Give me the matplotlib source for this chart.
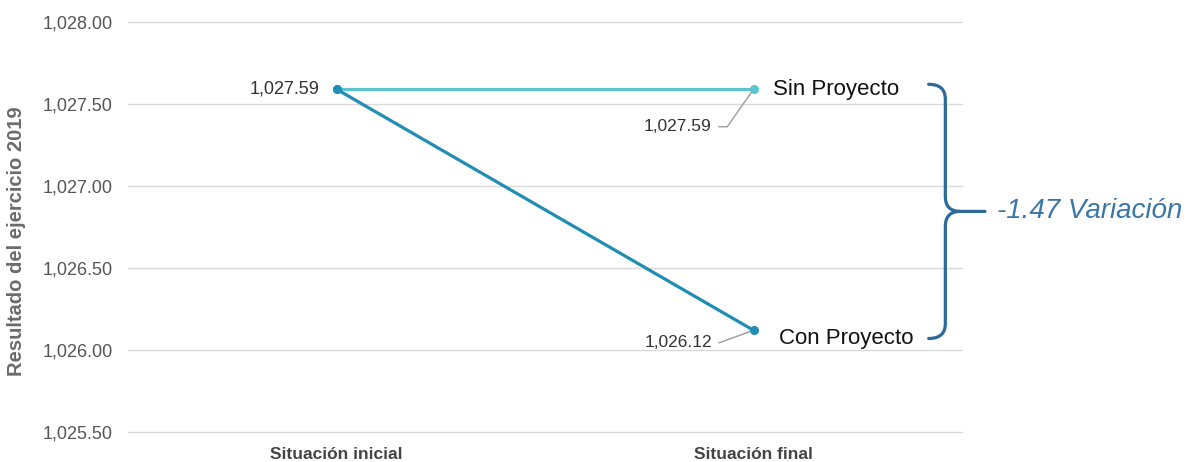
import matplotlib
matplotlib.use("Agg")
import matplotlib.pyplot as plt
from matplotlib.path import Path
from matplotlib.patches import PathPatch
from matplotlib.ticker import FuncFormatter, MultipleLocator

plt.rcParams["font.family"] = ["Liberation Sans", "DejaVu Sans"]

# ── Data ──────────────────────────────────────────────────────────────
categories = ["Situación inicial", "Situación final"]
sin_proyecto = [1027.59, 1027.59]
con_proyecto = [1027.59, 1026.12]
series_names = ["Sin Proyecto", "Con Proyecto"]
y_label = "Resultado del ejercicio 2019"

SIN_COLOR = "#5cc3d0"
CON_COLOR = "#1f8db4"
BRACE_COLOR = "#2a6b9c"

fig = plt.figure(figsize=(11.89, 4.62), dpi=100)
ax = fig.add_axes([0.1077, 0.065, 0.7014, 0.8874])

x = list(range(len(categories)))
ax.plot(x, sin_proyecto, color=SIN_COLOR, linewidth=2.3, marker="o",
        markersize=5.5, zorder=3, clip_on=False)
ax.plot(x, con_proyecto, color=CON_COLOR, linewidth=2.3, marker="o",
        markersize=5.5, zorder=4, clip_on=False)

ax.set_xlim(-0.5, 1.5)
ax.set_ylim(1025.5, 1028.0)
ax.yaxis.set_major_locator(MultipleLocator(0.5))
ax.yaxis.set_major_formatter(FuncFormatter(lambda v, _: f"{v:,.2f}"))
ax.set_xticks(x)
ax.set_xticklabels(categories, fontsize=12.5, fontweight="bold", color="#444444")
ax.tick_params(axis="y", labelsize=13, labelcolor="#555555", length=0, pad=11)
ax.tick_params(axis="x", length=0, pad=11)
ax.grid(axis="y", color="#d9d9d9", linewidth=1)
for gl in ax.get_ygridlines():
    gl.set_clip_on(False)
ax.set_axisbelow(True)
for s in ax.spines.values():
    s.set_visible(False)
ax.set_ylabel(y_label, fontsize=14.5, fontweight="bold", color="#6b6b6b")
ax.yaxis.set_label_coords(-0.122, 0.466)

# ── Data labels ───────────────────────────────────────────────────────
ax.annotate(f"{sin_proyecto[0]:,.2f}", xy=(x[0], sin_proyecto[0]),
            xytext=(-12, 0), textcoords="offset points", ha="right", va="center",
            fontsize=13, color="#333333")

leader = dict(arrowstyle="-", color="#9a9a9a", linewidth=1,
              connectionstyle="angle,angleA=0,angleB=55,rad=0", shrinkA=3, shrinkB=3)
ax.annotate(f"{sin_proyecto[1]:,.2f}", xy=(x[1], sin_proyecto[1]),
            xytext=(-30, -27), textcoords="offset points", ha="right", va="center",
            fontsize=12.5, color="#333333", arrowprops=leader)
leader2 = dict(leader, connectionstyle="angle,angleA=0,angleB=20,rad=0")
ax.annotate(f"{con_proyecto[1]:,.2f}", xy=(x[1], con_proyecto[1]),
            xytext=(-30, -9), textcoords="offset points", ha="right", va="center",
            fontsize=12.5, color="#333333", arrowprops=leader2)

# series names at the end of each line
ax.annotate(series_names[0], xy=(x[1], sin_proyecto[1]), xytext=(14, 0),
            textcoords="offset points", ha="left", va="center", fontsize=16,
            color="#111111", annotation_clip=False)
ax.annotate(series_names[1], xy=(x[1], con_proyecto[1]), xytext=(18, -6),
            textcoords="offset points", ha="left", va="center", fontsize=16,
            color="#111111", annotation_clip=False)

# ── Brace + variation ─────────────────────────────────────────────────
variation = con_proyecto[-1] - sin_proyecto[-1]
y_top = max(sin_proyecto[-1], con_proyecto[-1]) + 0.03
y_bot = min(sin_proyecto[-1], con_proyecto[-1]) - 0.05
y_mid = (y_top + y_bot) / 2
xb, x_end, x_tip = 1.46, 1.42, 1.555
rx, ry = 0.036, 0.09

verts = [
    (x_end, y_top), (xb, y_top), (xb, y_top - ry),
    (xb, y_mid + ry), (xb, y_mid), (xb + rx, y_mid),
    (xb, y_mid), (xb, y_mid - ry),
    (xb, y_bot + ry), (xb, y_bot), (x_end, y_bot),
    (xb + rx, y_mid), (x_tip, y_mid),
]
codes = [
    Path.MOVETO, Path.CURVE3, Path.CURVE3,
    Path.LINETO, Path.CURVE3, Path.CURVE3,
    Path.CURVE3, Path.CURVE3,
    Path.LINETO, Path.CURVE3, Path.CURVE3,
    Path.MOVETO, Path.LINETO,
]
brace = PathPatch(Path(verts, codes), facecolor="none", edgecolor=BRACE_COLOR,
                  linewidth=2.3, clip_on=False, capstyle="round")
ax.add_patch(brace)

ax.text(x_tip + 0.03, y_mid, f"{variation:.2f} Variación", ha="left", va="center",
        fontsize=20, style="italic", color="#3a76a8", clip_on=False)

fig.savefig("out.png", dpi=100)
